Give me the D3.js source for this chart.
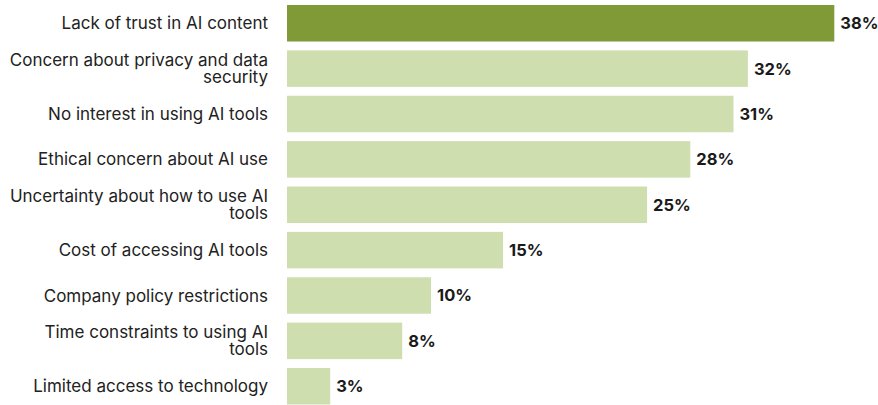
<!DOCTYPE html>
<html>
<head>
<meta charset="utf-8">
<script src="https://cdn.jsdelivr.net/npm/d3@7"></script>
<style>
  html, body { margin: 0; padding: 0; background: #fff; }
  svg { display: block; }
  text { font-family: Inter, "Liberation Sans", Arial, sans-serif; }
</style>
</head>
<body>
<svg id="chart" width="878" height="405"></svg>
<script>
// Reasons for not using AI tools (share of respondents)
const categories = [
  "Lack of trust in AI content",
  "Concern about privacy and data security",
  "No interest in using AI tools",
  "Ethical concern about AI use",
  "Uncertainty about how to use AI tools",
  "Cost of accessing AI tools",
  "Company policy restrictions",
  "Time constraints to using AI tools",
  "Limited access to technology"
];
const values = [38, 32, 31, 28, 25, 15, 10, 8, 3];
const highlighted = ["Lack of trust in AI content"];

const svg = d3.select("#chart");
const barLeft = 287;
const labelRight = 268;
const wrapWidth = 262;

const x = d3.scaleLinear().domain([0, 38]).range([barLeft, 834.3]);
const y = d3.scaleBand()
  .domain(categories)
  .range([5, 404.5])
  .paddingInner(0.1956)
  .paddingOuter(0);

const rows = categories.map((c, i) => ({ cat: c, val: values[i] }));

// bars
svg.append("g").selectAll("rect")
  .data(rows)
  .join("rect")
  .attr("x", x(0))
  .attr("y", d => y(d.cat))
  .attr("width", d => x(d.val) - x(0))
  .attr("height", y.bandwidth())
  .attr("fill", d => highlighted.includes(d.cat) ? "#7f9a36" : "#cfdeae");

// value labels
svg.append("g").selectAll("text")
  .data(rows)
  .join("text")
  .attr("x", d => x(d.val) + 6)
  .attr("y", d => y(d.cat) + y.bandwidth() / 2)
  .attr("dy", "0.36em")
  .attr("font-size", 16.5)
  .attr("font-weight", 700)
  .attr("fill", "#1a1a1a")
  .text(d => d.val + "%");

// category labels, wrapped to fit the left margin
const labels = svg.append("g").selectAll("text")
  .data(rows)
  .join("text")
  .attr("text-anchor", "end")
  .attr("font-size", 17)
  .attr("fill", "#222");

labels.each(function (d) {
  const t = d3.select(this);
  const words = d.cat.split(" ");
  const lines = [];
  let line = [];
  const probe = t.append("tspan");
  words.forEach(w => {
    const attempt = line.concat(w).join(" ");
    probe.text(attempt);
    if (probe.node().getComputedTextLength() > wrapWidth && line.length) {
      lines.push(line.join(" "));
      line = [w];
    } else {
      line.push(w);
    }
  });
  lines.push(line.join(" "));
  probe.remove();
  const lh = 17;
  const cy = y(d.cat) + y.bandwidth() / 2;
  const top = cy - (lines.length - 1) * lh / 2;
  lines.forEach((l, i) => {
    t.append("tspan")
      .attr("x", labelRight)
      .attr("y", top + i * lh)
      .attr("dy", "0.36em")
      .text(l);
  });
});
</script>
</body>
</html>
